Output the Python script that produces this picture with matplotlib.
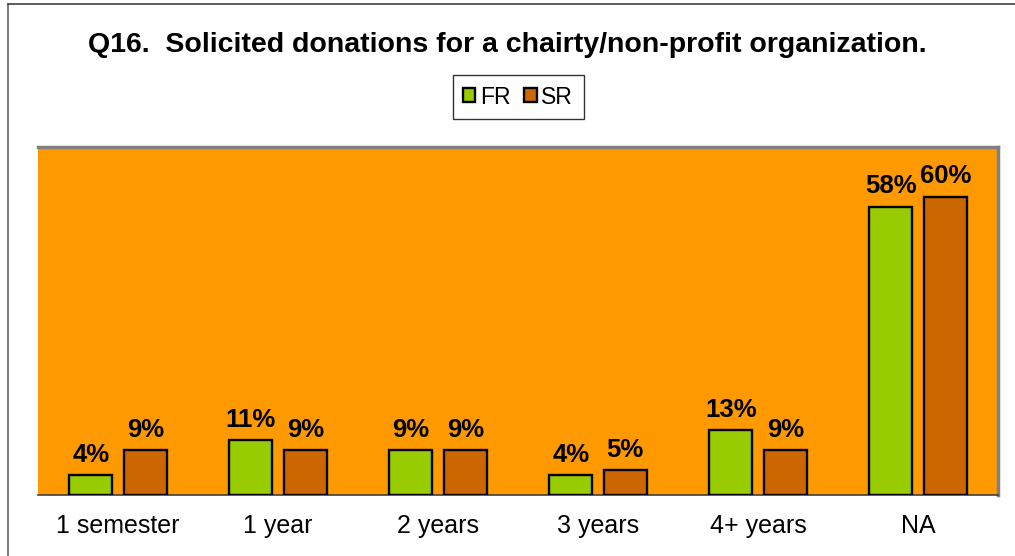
from matplotlib import pyplot as plt
from matplotlib.lines import Line2D
import numpy as np

plt.rcParams['font.family'] = ['Liberation Sans', 'DejaVu Sans']

categories = ["1 semester", "1 year", "2 years", "3 years", "4+ years", "NA"]
fr_vals = [4, 11, 9, 4, 13, 58]
sr_vals = [9, 9, 9, 5, 9, 60]
series_names = ["FR", "SR"]

fig = plt.figure(figsize=(10.15, 5.56), dpi=100)
ax = fig.add_axes([38/1015, 1 - 495/556, 960/1015, 348/556])

# outer frame of the chart (only top and left edges are visible)
fig.lines.append(Line2D([7.5/1015, 7.5/1015], [0, 1 - 3.5/556], transform=fig.transFigure,
                        color="#808080", lw=1.5))
fig.lines.append(Line2D([7.5/1015, 1], [1 - 3.5/556, 1 - 3.5/556], transform=fig.transFigure,
                        color="#404040", lw=1.2))

x = np.arange(len(categories))
w = 0.27
off = 0.17
b1 = ax.bar(x - off, fr_vals, w, color="#99CC00", edgecolor="black", lw=1.7, label=series_names[0], zorder=3)
b2 = ax.bar(x + off, sr_vals, w, color="#CC6600", edgecolor="black", lw=1.7, label=series_names[1], zorder=3)

for bars in (b1, b2):
    for r in bars:
        ax.annotate("%d%%" % r.get_height(), xy=(r.get_x() + r.get_width()/2, r.get_height()),
                    xytext=(0, 6), textcoords="offset points", ha="center", va="bottom",
                    fontsize=18.5, fontweight="bold")

ax.set_facecolor("#FF9900")
ax.set_xlim(-0.5, len(categories) - 0.5)
ax.set_ylim(0, 70)
ax.set_yticks([])
ax.set_xticks(x)
ax.set_xticklabels(categories, fontsize=18)
ax.tick_params(axis="x", length=0, pad=14)
ax.spines["left"].set_visible(False)
ax.spines["top"].set_color("#808080")
ax.spines["top"].set_linewidth(2.5)
ax.spines["right"].set_color("#808080")
ax.spines["right"].set_linewidth(2.5)
ax.spines["bottom"].set_color("#404040")
ax.spines["bottom"].set_linewidth(1.2)

fig.text(0.5, 1 - 45/556, "Q16.  Solicited donations for a chairty/non-profit organization.",
         ha="center", va="center", fontsize=20.5, fontweight="bold")

leg = fig.legend(handles=[b1, b2], loc="center", bbox_to_anchor=(518/1015, 1 - 97/556), ncol=2,
                 fontsize=16.5, frameon=True, fancybox=False, edgecolor="black",
                 handlelength=0.55, handleheight=0.55, handletextpad=0.2, columnspacing=0.6,
                 borderpad=0.45)
leg.get_frame().set_linewidth(1.0)

fig.savefig("out.png", dpi=100)
plt.close()
